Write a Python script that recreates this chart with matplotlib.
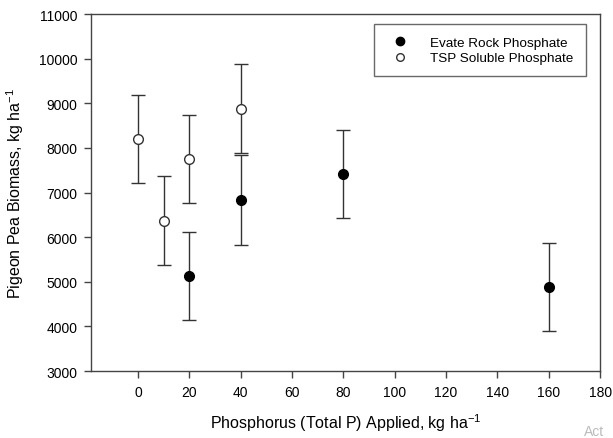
import matplotlib
matplotlib.use("Agg")
import matplotlib.pyplot as plt
from matplotlib.lines import Line2D

plt.rcParams['font.family'] = ['Liberation Sans', 'DejaVu Sans']
plt.rcParams['mathtext.default'] = 'regular'

# Evate Rock Phosphate
evate_p = [20, 40, 80, 160]
evate_biomass = [5130, 6830, 7410, 4880]
evate_err = [990, 1000, 990, 990]

# TSP Soluble Phosphate
tsp_p = [0, 10, 20, 40]
tsp_biomass = [8200, 6370, 7750, 8880]
tsp_err = [990, 990, 990, 1000]

xticks = [0, 20, 40, 60, 80, 100, 120, 140, 160, 180]
yticks = [3000, 4000, 5000, 6000, 7000, 8000, 9000, 10000, 11000]

fig = plt.figure(figsize=(6.13, 4.39), dpi=100)
ax = fig.add_axes([0.1485, 0.1526, 0.8305, 0.8132])

ax.errorbar(evate_p, evate_biomass, yerr=evate_err, fmt='o', color='black',
            ecolor='#333333', elinewidth=1, capsize=5, capthick=1,
            markersize=7, zorder=3)
ax.errorbar(tsp_p, tsp_biomass, yerr=tsp_err, fmt='o', color='black',
            markerfacecolor='white', markeredgecolor='#333333', ecolor='#333333',
            elinewidth=1, capsize=5, capthick=1, markersize=7, zorder=3)

ax.set_xlim(-18.3, 180)
ax.set_ylim(3000, 11000)
ax.set_xticks(xticks)
ax.set_yticks(yticks)
ax.tick_params(direction='out', length=5, width=1, color='#444444',
               labelsize=10, pad=5)
for s in ax.spines.values():
    s.set_color('#444444')
    s.set_linewidth(1)

ax.set_xlabel('Phosphorus (Total P) Applied, kg ha$^{-1}$', fontsize=11.5, labelpad=9)
ax.set_ylabel('Pigeon Pea Biomass, kg ha$^{-1}$', fontsize=11.5, labelpad=9)

handles = [
    Line2D([], [], marker='o', linestyle='none', color='black', markersize=6),
    Line2D([], [], marker='o', linestyle='none', markerfacecolor='white',
           markeredgecolor='#333333', markersize=5.5),
]
leg = ax.legend(handles, ['Evate Rock Phosphate', 'TSP Soluble Phosphate'],
                loc='upper right', bbox_to_anchor=(0.972, 0.972), fontsize=9.7,
                frameon=True, fancybox=False, edgecolor='#444444',
                handletextpad=1.3, borderpad=0.9, labelspacing=0.25,
                handlelength=2.0, borderaxespad=0)
leg.get_frame().set_linewidth(1)

fig.text(0.953, 0.006, 'Act', fontsize=10, color='#bbbbbb')

fig.savefig('out.png', dpi=100)
